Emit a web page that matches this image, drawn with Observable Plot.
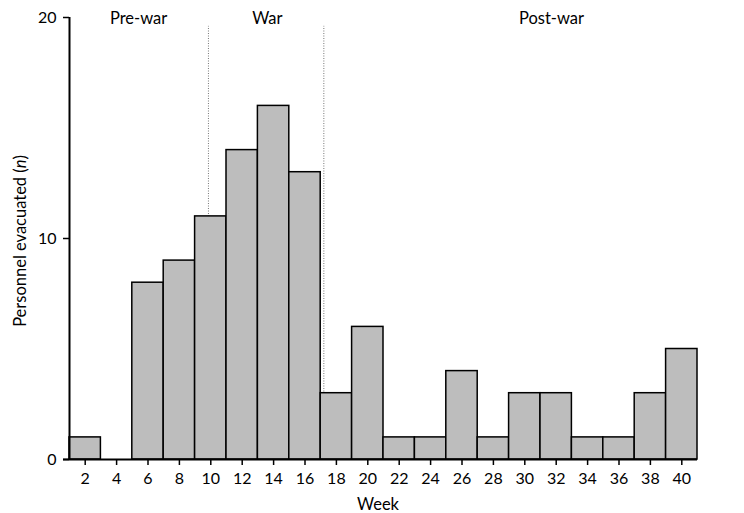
<!DOCTYPE html>
<html><head><meta charset="utf-8">
<script src="https://cdn.jsdelivr.net/npm/d3@7"></script>
<script src="https://cdn.jsdelivr.net/npm/@observablehq/plot@0.6"></script>
<style>body{margin:0;background:#fff;font-family:Lato,sans-serif;}</style>
</head><body><div id="chart"></div>
<script>
const weeks = [2,4,6,8,10,12,14,16,18,20,22,24,26,28,30,32,34,36,38,40];
const counts = [1,0,8,9,11,14,16,13,3,6,1,1,4,1,3,3,1,1,3,5];
const phaseLabels = ["Pre-war","War","Post-war"];
const phaseX = [5.4,13.6,31.7];
const phaseBounds = [9.85,17.2];
const yTicks = [0,10,20];

const bars = weeks.map((w,i)=>({x1:w-1,x2:w+1,y:counts[i]}));
const phases = phaseLabels.map((l,i)=>({label:l,x:phaseX[i]}));

const plot = Plot.plot({
  width:744, height:513,
  marginLeft:69, marginRight:47, marginTop:17, marginBottom:54,
  style:{fontFamily:"Lato, sans-serif", fontSize:"16px", color:"#000"},
  x:{domain:[1,41], label:null},
  y:{domain:[0,20], label:null},
  marks:[
    Plot.ruleX(phaseBounds,{y1:0,y2:19.6,stroke:"#777",strokeDasharray:"1,1.5",strokeWidth:1}),
    Plot.rectY(bars,{x1:"x1",x2:"x2",y:"y",fill:"#bdbdbd",stroke:"#000",strokeWidth:1.5}),
    Plot.ruleX([1],{y1:0,y2:20,stroke:"#000",strokeWidth:2}),
    Plot.ruleY([0],{x1:1,x2:41,insetLeft:-6,stroke:"#000",strokeWidth:2}),
    Plot.axisY({ticks:yTicks,tickSize:6,tickPadding:7,fontSize:16,label:null,tickFormat:d=>d,strokeWidth:1.5}),
    Plot.axisX({ticks:weeks,tickSize:6,tickPadding:7,fontSize:16,label:null,tickFormat:d=>d,strokeWidth:1.5}),
    Plot.text(phases,{x:"x",y:20,dy:1,text:"label",fontSize:16.5,fill:"#000"})
  ]
});
const svg = d3.select(plot);
svg.append("text").attr("x",378).attr("y",510).attr("text-anchor","middle")
  .style("font-size","16.5px").text("Week");
const yl = svg.append("text").attr("transform","translate(26,241) rotate(-90)")
  .attr("text-anchor","middle").style("font-size","16.5px");
yl.append("tspan").text("Personnel evacuated (");
yl.append("tspan").attr("font-style","italic").text("n");
yl.append("tspan").text(")");
document.getElementById("chart").append(plot);
</script></body></html>
